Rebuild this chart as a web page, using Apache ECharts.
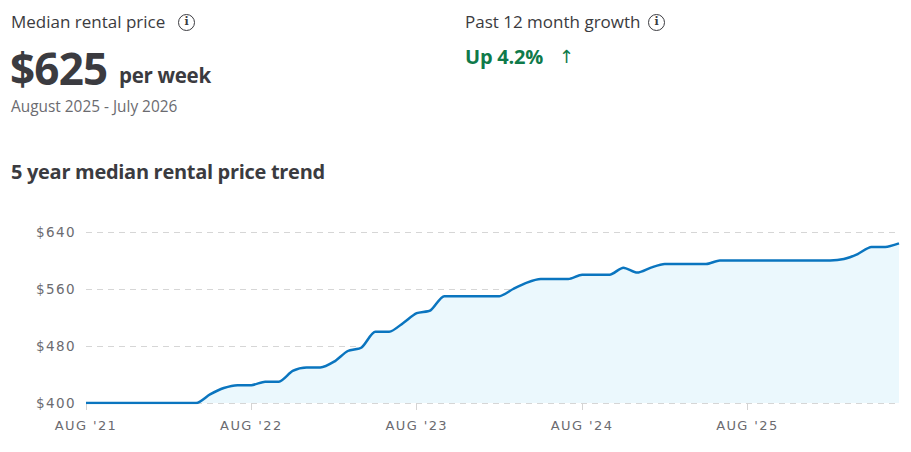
<!DOCTYPE html>
<html lang="en">
<head>
    <meta charset="UTF-8">
    <title>Median rental price</title>
    <script type="text/javascript" src="https://cdn.jsdelivr.net/npm/echarts@6/dist/echarts.min.js"></script>
    <style>
        body { margin: 0; width: 911px; height: 452px; background: #fff; font-family: "Open Sans", Roboto, sans-serif; color: #3b3b40; position: relative; overflow: hidden; }
        .t { position: absolute; white-space: nowrap; line-height: 1; }
        .info { position: absolute; box-sizing: border-box; width: 17px; height: 17px; border: 1.5px solid #3b3b40; border-radius: 50%; font-size: 11px; line-height: 14px; text-align: center; font-family: "DejaVu Serif", serif; font-weight: 700; color: #3b3b40; }
        #main text { letter-spacing: 1.4px; }
    </style>
</head>
<body>
<div class="t" style="left:11px;top:13px;font-size:17px;">Median rental price</div>
<div class="info" style="left:178px;top:14px;">i</div>
<div class="t" style="left:10px;top:46px;font-size:44px;font-weight:700;letter-spacing:-0.8px;">$625</div>
<div class="t" style="left:119px;top:65px;font-size:20.5px;font-weight:700;letter-spacing:-0.3px;">per week</div>
<div class="t" style="left:11px;top:99px;font-size:15.4px;color:#6b6b70;">August 2025 - July 2026</div>
<div class="t" style="left:465px;top:13px;font-size:17px;">Past 12 month growth</div>
<div class="info" style="left:648px;top:14px;">i</div>
<div class="t" style="left:465px;top:47px;font-size:20px;font-weight:700;color:#0f7a4a;letter-spacing:-0.2px;">Up 4.2%</div>
<div class="t" style="left:559px;top:48px;font-size:18px;color:#0f7a4a;font-family:'DejaVu Sans';">&#8593;</div>
<div class="t" style="left:11px;top:162px;font-size:20px;font-weight:700;letter-spacing:-0.3px;">5 year median rental price trend</div>
<div id="main" style="position:absolute;left:0;top:0;width:911px;height:452px;"></div>

<script type="text/javascript">

    // monthly points, Aug 2021 .. Jul 2026
    var months = ['AUG', 'SEP', 'OCT', 'NOV', 'DEC', 'JAN', 'FEB', 'MAR', 'APR', 'MAY', 'JUN', 'JUL'];
    var startYear = 21;
    var prices = [
        400, 400, 400, 400, 400, 400, 400, 400, 400, 412, 421, 425,
        425, 430, 430, 445, 450, 450, 458, 473, 478, 500, 500, 512,
        526, 530, 550, 550, 550, 550, 550, 560, 569, 574, 574, 574,
        580, 580, 580, 590, 583, 590, 595, 595, 595, 595, 600, 600,
        600, 600, 600, 600, 600, 600, 600, 602, 609, 619, 619, 624
    ];
    var yTicks = [400, 480, 560, 640];

    var categories = [];
    for (var i = 0; i < prices.length; i++) {
        var yr = startYear + Math.floor((i + 7) / 12);
        categories.push(months[i % 12] + " '" + yr);
    }

    var chart = echarts.init(document.getElementById('main'), null, { renderer: 'svg' });
    var option = {
        animation: false,
        grid: { left: 86, right: 12, top: 232, bottom: 49 },
        xAxis: {
            type: 'category',
            data: categories,
            boundaryGap: false,
            axisLine: { show: false },
            axisTick: {
                show: true,
                length: 7,
                interval: function (idx) { return idx % 12 === 0; },
                lineStyle: { color: '#d4d4d4' }
            },
            axisLabel: {
                interval: function (idx) { return idx % 12 === 0; },
                color: '#6b6b70',
                fontFamily: 'DejaVu Sans',
                fontSize: 13,
                margin: 16
            }
        },
        yAxis: {
            type: 'value',
            min: yTicks[0],
            max: yTicks[yTicks.length - 1],
            interval: yTicks[1] - yTicks[0],
            axisLine: { show: false },
            axisTick: { show: false },
            axisLabel: {
                color: '#6b6b70',
                fontFamily: 'DejaVu Sans',
                fontSize: 13.5,
                margin: 10,
                formatter: function (v) { return '$' + v; }
            },
            splitLine: { lineStyle: { color: '#d6d6d6', type: [6, 5], width: 1 } }
        },
        series: [{
            type: 'line',
            data: prices,
            smooth: 0.25,
            showSymbol: false,
            lineStyle: { color: '#0a75bf', width: 2.5 },
            areaStyle: { color: '#ebf8fd', opacity: 1 }
        }]
    };
    chart.setOption(option);
</script>
</body>
</html>
